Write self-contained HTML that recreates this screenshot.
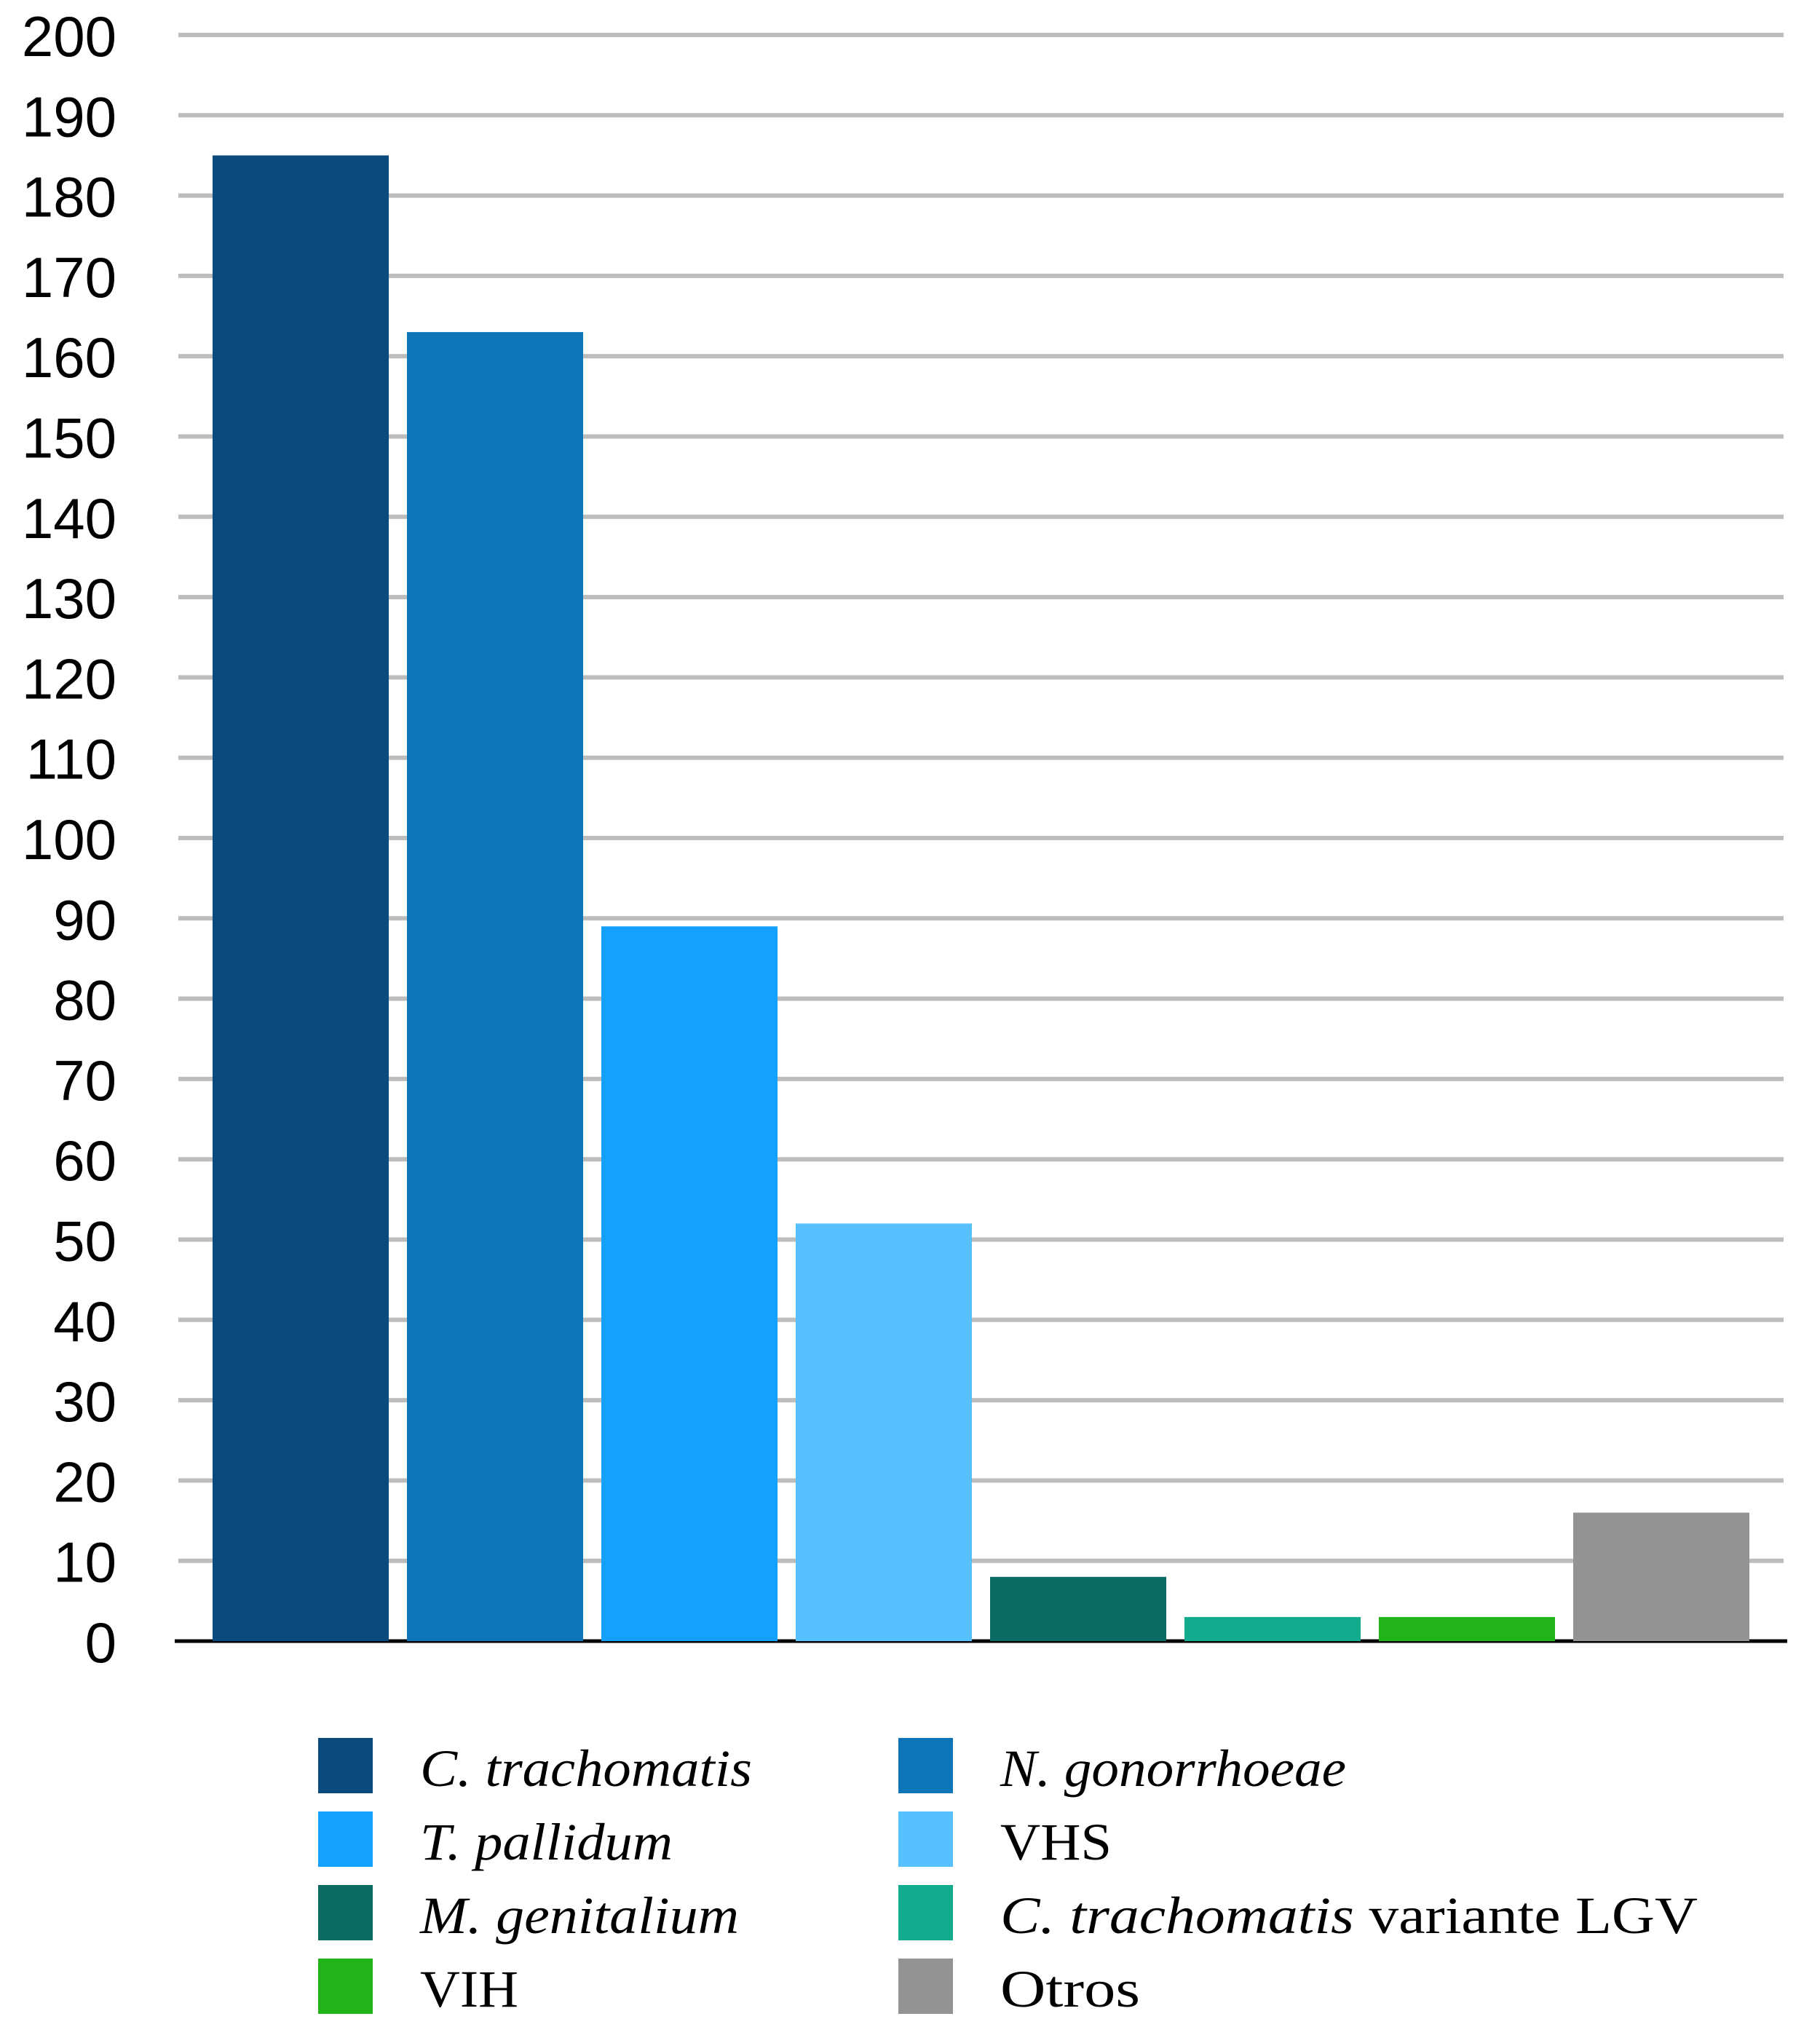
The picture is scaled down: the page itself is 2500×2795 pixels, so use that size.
<!DOCTYPE html>
<html><head><meta charset="utf-8"><style>html,body{margin:0;padding:0;background:#fff}svg{display:block}</style></head>
<body>
<svg id="chart" width="2500" height="2795" viewBox="0 0 2500 2795" xmlns="http://www.w3.org/2000/svg">
<g id="grid"></g>
<g id="yticks"></g>
<g id="bars"></g>
<g id="legend"></g>
</svg>
<script>
const categories = ["C. trachomatis","N. gonorrhoeae","T. pallidum","VHS","M. genitalium","C. trachomatis variante LGV","VIH","Otros"];
const values = [185,163,89,52,8,3,3,16];
const colors = ["#0a4a7c","#0f75b9","#14a1fe","#57c0fe","#0c6b63","#13ab8e","#22b21a","#939393"];
const tickValues = [0,10,20,30,40,50,60,70,80,90,100,110,120,130,140,150,160,170,180,190,200];
const italicPart = ["C. trachomatis","N. gonorrhoeae","T. pallidum","","M. genitalium","C. trachomatis","",""];
const plainPart = ["","","","VHS",""," variante LGV","VIH","Otros"];
const legendWidths = [456,475,347,153,438,958,135,192];

const NS="http://www.w3.org/2000/svg";
const y0=2254, y1=48, yMax=200;
const y = v => y0 - (v/yMax)*(y0-y1);
const xLeft=245, xRight=2450, bandStart=280, step=267, barW=242;
const x = i => bandStart + 12 + i*step;
function mk(tag, attrs, parent){const e=document.createElementNS(NS,tag);for(const k in attrs)e.setAttribute(k,attrs[k]);parent.appendChild(e);return e;}

const grid=document.getElementById('grid'), yt=document.getElementById('yticks'), bars=document.getElementById('bars'), leg=document.getElementById('legend');
tickValues.forEach(t=>{
  if(t>0){const l=mk('line',{x1:xLeft,x2:xRight,y1:y(t),y2:y(t),stroke:'#bdbdbd','stroke-width':6},grid);
  
  }
  const tx=mk('text',{x:160,y:y(t)+29,'text-anchor':'end','font-family':'Liberation Sans, sans-serif','font-size':78,fill:'#000'},yt);
  tx.textContent=t;
  
  
});
values.forEach((v,i)=>{
  const r=mk('rect',{x:x(i),y:y(v),width:barW,height:y0-y(v),fill:colors[i]},bars);
  
  
});
const ax=mk('line',{x1:xLeft-5,x2:xRight+5,y1:y0,y2:y0,stroke:'#000','stroke-width':5},grid);



categories.forEach((c,i)=>{
  const col=i%2, row=Math.floor(i/2);
  const sx=col?1234:437, sy=2387+row*101;
  const g=mk('g',{},leg);
  
  
  mk('rect',{x:sx,y:sy,width:75,height:76,fill:colors[i]},g);
  const t=mk('text',{x:sx+140,y:sy+66,'font-family':'Liberation Serif, serif','font-size':72,fill:'#000',textLength:legendWidths[i],lengthAdjust:'spacingAndGlyphs'},g);
  if(italicPart[i]){const s=mk('tspan',{'font-style':'italic'},t);s.textContent=italicPart[i];}
  if(plainPart[i]){const s=mk('tspan',{},t);s.textContent=plainPart[i];}
});
</script>
</body></html>
